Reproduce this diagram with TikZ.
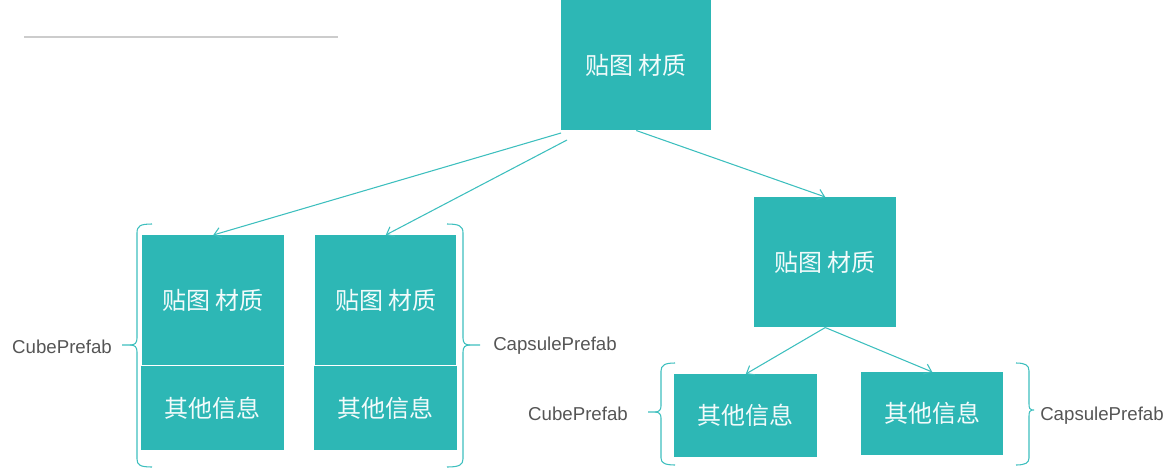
\documentclass[tikz,border=0pt]{standalone}
\usepackage{fontspec}
\setmainfont{Liberation Sans}
\newfontfamily\cjk{Noto Sans CJK SC}
\usetikzlibrary{arrows.meta}
\definecolor{teal1}{HTML}{2DB7B5}
\definecolor{teall}{HTML}{3DBFBE}
\definecolor{lab}{HTML}{555555}
\definecolor{sep}{HTML}{CCCCCC}
\definecolor{btxt}{HTML}{F2FBFB}
\tikzset{
  box/.style={fill=teal1, draw=none, inner sep=0pt, anchor=north west, text=btxt, font=\cjk\fontsize{18}{20}\selectfont},
  conn/.style={draw=teall, line width=0.8pt, -{Straight Barb[length=5pt,width=8pt]}},
  brc/.style={draw=teall, line width=0.8pt},
  lbl/.style={text=lab, font=\fontsize{14}{16}\selectfont, inner sep=0pt}
}
\begin{document}
\begin{tikzpicture}[x=0.75pt,y=-0.75pt]
\useasboundingbox (0,0) rectangle (1174,468);
\draw[sep, line width=0.8pt] (24,37) -- (338,37);
% top
\node[box, minimum width=150*0.75pt, minimum height=130*0.75pt] (top) at (561,0) {贴图 材质};
% left group
\node[box, minimum width=142*0.75pt, minimum height=130*0.75pt] (a1) at (142,235) {贴图 材质};
\node[box, minimum width=143*0.75pt, minimum height=84*0.75pt] (a2) at (141,366) {其他信息};
\node[box, minimum width=141*0.75pt, minimum height=130*0.75pt] (b1) at (315,235) {贴图 材质};
\node[box, minimum width=143*0.75pt, minimum height=84*0.75pt] (b2) at (314,366) {其他信息};
% right group
\node[box, minimum width=142*0.75pt, minimum height=130*0.75pt] (r) at (754,197) {贴图 材质};
\node[box, minimum width=143*0.75pt, minimum height=83*0.75pt] (c1) at (674,374) {其他信息};
\node[box, minimum width=142*0.75pt, minimum height=83*0.75pt] (c2) at (861,372) {其他信息};
% connectors
\coordinate (s1) at (561,133);
\coordinate (s2) at (567,140);
\draw[conn] (s1) -- (a1.north);
\draw[conn] (s2) -- (b1.north);
\draw[conn] (top.south) -- (r.north);
\draw[conn] (r.south) -- (c1.north);
\draw[conn] (r.south) -- (c2.north);
% braces
\draw[brc] (152,224) .. controls (140,224) and (137,226) .. (137,233) -- (137,338) .. controls (137,343) and (135,345) .. (130,345) -- (122,345);
\draw[brc] (130,345) .. controls (135,345) and (137,347) .. (137,352) -- (137,459) .. controls (137,465) and (140,467) .. (152,467);
\draw[brc] (447,224) .. controls (459,224) and (463,226) .. (463,233) -- (463,338) .. controls (463,343) and (465,345) .. (470,345) -- (480,345);
\draw[brc] (470,345) .. controls (465,345) and (463,347) .. (463,352) -- (463,459) .. controls (463,465) and (459,467) .. (447,467);
\draw[brc] (675,363) .. controls (665,363) and (661,365) .. (661,371) -- (661,406) .. controls (661,410) and (659,412) .. (655,412) -- (648,412);
\draw[brc] (655,412) .. controls (659,412) and (661,414) .. (661,418) -- (661,458) .. controls (661,463) and (665,465) .. (675,465);
\draw[brc] (1016,363) .. controls (1025,363) and (1029,365) .. (1029,371) -- (1029,404) .. controls (1029,408) and (1030,410) .. (1032,410) -- (1034,410);
\draw[brc] (1032,410) .. controls (1030,410) and (1029,412) .. (1029,416) -- (1029,458) .. controls (1029,463) and (1025,465) .. (1016,465);
% labels
\node[lbl] (l1) at (62,347) {CubePrefab};
\node[lbl] (l2) at (555,346) {CapsulePrefab};
\node[lbl] (l3) at (578,414) {CubePrefab};
\node[lbl] (l4) at (1102,416) {CapsulePrefab};
\end{tikzpicture}
\end{document}
